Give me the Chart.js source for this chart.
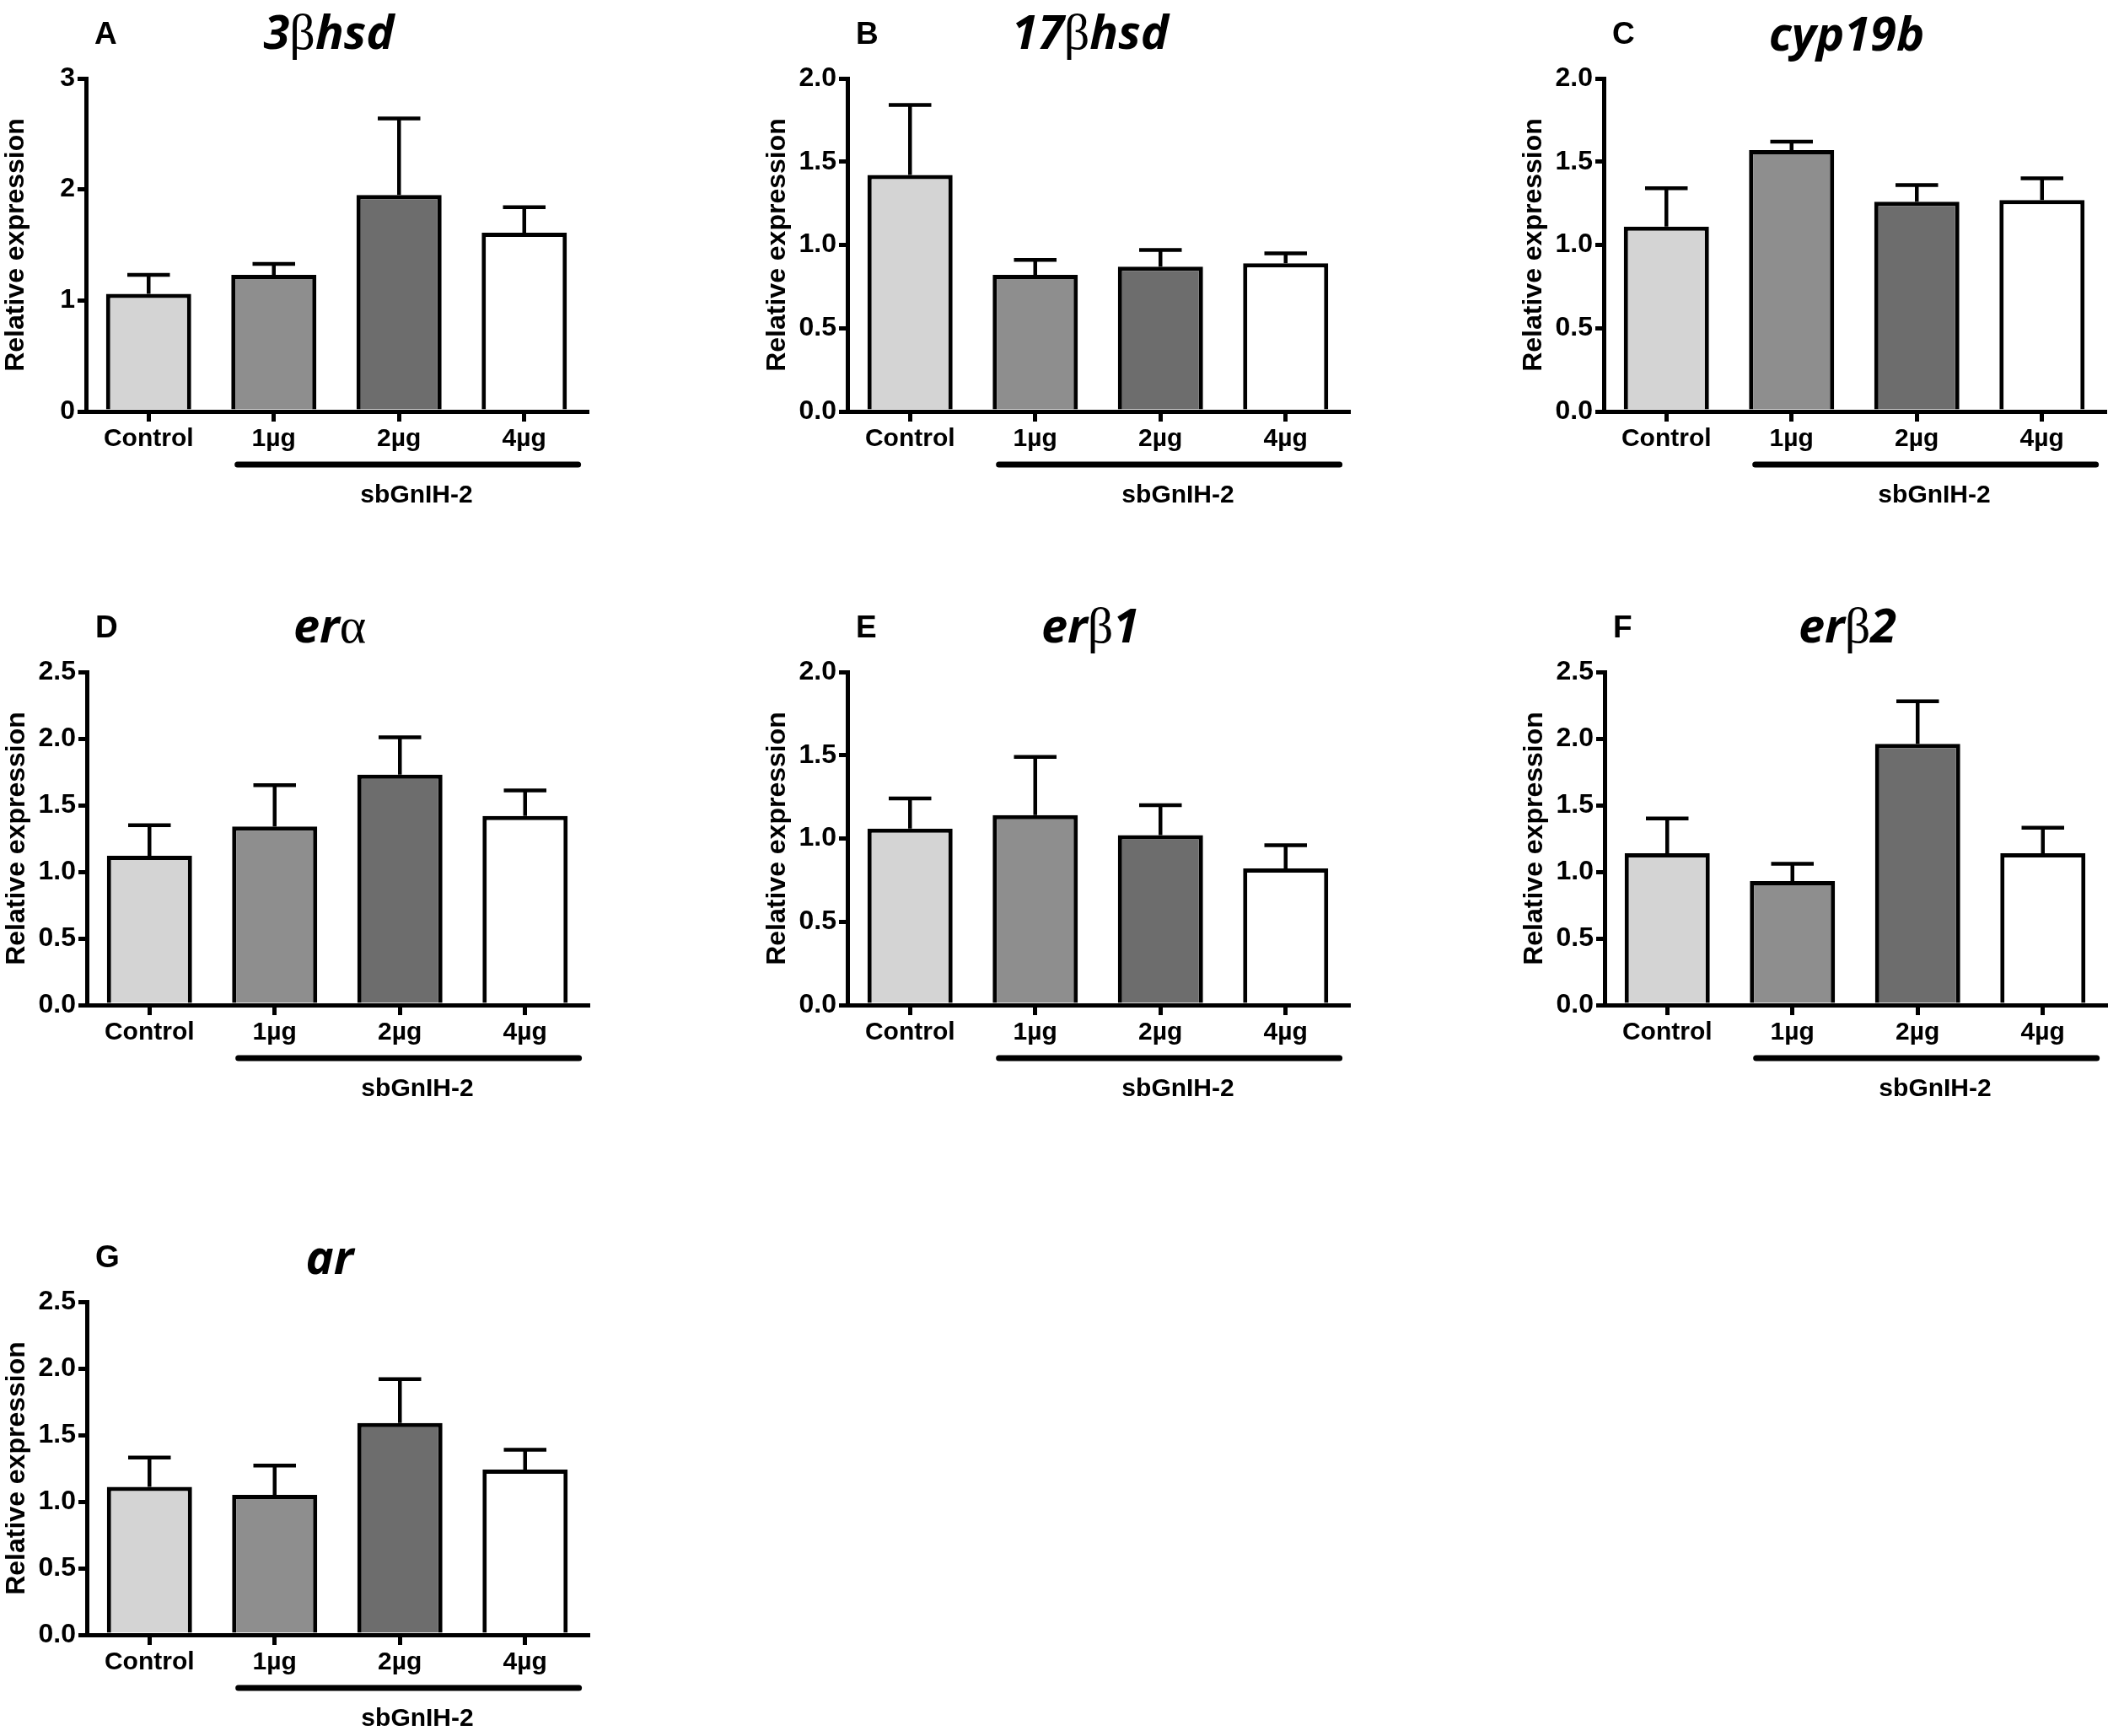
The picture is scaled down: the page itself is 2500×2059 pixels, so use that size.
<!DOCTYPE html>
<html>
<head>
<meta charset="utf-8">
<script src="https://cdn.jsdelivr.net/npm/chart.js@4.4.0/dist/chart.umd.min.js"></script>
<style>
  html, body { margin: 0; padding: 0; background: #fff; overflow: hidden; }
  body { width: 2500px; height: 2059px; position: relative; }
  canvas { position: absolute; }
  .letter { position: absolute; font: bold 37px "Liberation Sans", Arial, sans-serif; line-height: 1; transform: translateY(-50%); }
  .gene { position: absolute; font: italic bold 56px "Open Sans", sans-serif; line-height: 1; transform: translate(-50%, -50%); white-space: nowrap; }
  .gene .greek { font: normal 60px "Liberation Serif", serif; }
</style>
</head>
<body>
<script>
// categories and labels
const groups = ['Control', '1µg', '2µg', '4µg'];
const genes = ['3βhsd', '17βhsd', 'cyp19b', 'erα', 'erβ1', 'erβ2', 'ar'];
const panelLetters = ['A', 'B', 'C', 'D', 'E', 'F', 'G'];
const treatmentLabel = 'sbGnIH-2';
const yTitle = 'Relative expression';

// means and SEM
const mean3bhsd = [1.06, 1.23, 1.95, 1.61];
const sem3bhsd = [0.17, 0.10, 0.69, 0.23];
const mean17bhsd = [1.42, 0.82, 0.87, 0.89];
const sem17bhsd = [0.42, 0.09, 0.10, 0.06];
const meanCyp19b = [1.11, 1.57, 1.26, 1.27];
const semCyp19b = [0.23, 0.05, 0.10, 0.13];
const meanEra = [1.12, 1.34, 1.73, 1.42];
const semEra = [0.23, 0.31, 0.28, 0.19];
const meanErb1 = [1.06, 1.14, 1.02, 0.82];
const semErb1 = [0.18, 0.35, 0.18, 0.14];
const meanErb2 = [1.14, 0.93, 1.96, 1.14];
const semErb2 = [0.26, 0.13, 0.32, 0.19];
const meanAr = [1.11, 1.05, 1.59, 1.24];
const semAr = [0.22, 0.22, 0.33, 0.15];

// y axis ranges
const yMax = [3, 2, 2, 2.5, 2, 2.5, 2.5];
const yStep = [1, 0.5, 0.5, 0.5, 0.5, 0.5, 0.5];

const allMeans = [mean3bhsd, mean17bhsd, meanCyp19b, meanEra, meanErb1, meanErb2, meanAr];
const allSems = [sem3bhsd, sem17bhsd, semCyp19b, semEra, semErb1, semErb2, semAr];

// layout of the panels on the page
const panelLeft = [0, 903, 1800, 1, 903, 1801, 1];
const panelTop = [0, 0, 0, 704, 704, 704, 1451];
const canvasW = 700, canvasH = 620;
const axisW = 102, padTop = 93, xAxisH = 132;

const barColors = ['#d4d4d4', '#8e8e8e', '#6d6d6d', '#ffffff'];
const sans = '"Liberation Sans", Arial, sans-serif';

const errorBars = {
    id: 'errorBars',
    afterDatasetsDraw(chart, args, opts) {
        const ctx = chart.ctx;
        const y = chart.scales.y;
        const ds = chart.data.datasets[0];
        ctx.save();
        ctx.strokeStyle = '#000';
        ctx.lineWidth = 4.5;
        chart.getDatasetMeta(0).data.forEach((bar, i) => {
            const top = y.getPixelForValue(ds.data[i] + opts.sem[i]);
            const half = bar.width * 0.25;
            ctx.beginPath();
            ctx.moveTo(bar.x, bar.y);
            ctx.lineTo(bar.x, top);
            ctx.moveTo(bar.x - half, top);
            ctx.lineTo(bar.x + half, top);
            ctx.stroke();
        });
        ctx.restore();
    }
};

// thick line under the treated groups with its label
const treatmentBar = {
    id: 'treatmentBar',
    afterDraw(chart, args, opts) {
        const ctx = chart.ctx;
        const x = chart.scales.x;
        const step = x.getPixelForValue(1) - x.getPixelForValue(0);
        const bottom = chart.chartArea.bottom;
        ctx.save();
        ctx.strokeStyle = '#000';
        ctx.lineWidth = 7;
        ctx.lineCap = 'round';
        ctx.beginPath();
        ctx.moveTo(x.getPixelForValue(1) - 0.29 * step, bottom + 63);
        ctx.lineTo(x.getPixelForValue(3) + 0.43 * step, bottom + 63);
        ctx.stroke();
        ctx.fillStyle = '#000';
        ctx.font = 'bold 30px ' + sans;
        ctx.textAlign = 'center';
        ctx.textBaseline = 'middle';
        ctx.fillText(opts.label, x.getPixelForValue(2) + 0.14 * step, bottom + 100);
        ctx.restore();
    }
};

genes.forEach((gene, p) => {
    const canvas = document.createElement('canvas');
    canvas.width = canvasW;
    canvas.height = canvasH;
    canvas.style.left = panelLeft[p] + 'px';
    canvas.style.top = panelTop[p] + 'px';
    document.body.appendChild(canvas);

    const letter = document.createElement('div');
    letter.className = 'letter';
    letter.textContent = panelLetters[p];
    letter.style.left = (panelLeft[p] + axisW + 10) + 'px';
    letter.style.top = (panelTop[p] + padTop - 54) + 'px';
    document.body.appendChild(letter);

    const title = document.createElement('div');
    title.className = 'gene';
    title.innerHTML = gene.replace(/([αβ])/g, '<span class="greek">$1</span>');
    title.style.left = (panelLeft[p] + axisW + 288) + 'px';
    title.style.top = (panelTop[p] + padTop - 55) + 'px';
    document.body.appendChild(title);

    const decimals = yStep[p] < 1 ? 1 : 0;

    new Chart(canvas.getContext('2d'), {
        type: 'bar',
        data: {
            labels: groups,
            datasets: [{
                data: allMeans[p],
                backgroundColor: barColors,
                borderColor: '#000',
                borderWidth: 5,
                categoryPercentage: 1,
                barPercentage: 0.68
            }]
        },
        options: {
            responsive: false,
            animation: false,
            devicePixelRatio: 1,
            layout: { padding: { top: padTop, right: 4, left: 0, bottom: 0 } },
            plugins: {
                legend: { display: false },
                tooltip: { enabled: false },
                errorBars: { sem: allSems[p] },
                treatmentBar: { label: treatmentLabel }
            },
            scales: {
                x: {
                    grid: { drawOnChartArea: false, offset: false, tickLength: 12, lineWidth: 5, color: '#000' },
                    border: { display: true, width: 5, color: '#000' },
                    ticks: { color: '#000', font: { family: sans, weight: 'bold', size: 30 }, padding: 3, maxRotation: 0 },
                    afterFit(scale) { scale.height = xAxisH; }
                },
                y: {
                    min: 0,
                    max: yMax[p],
                    ticks: {
                        stepSize: yStep[p],
                        color: '#000',
                        padding: 3,
                        font: { family: sans, weight: 'bold', size: 32 },
                        callback: v => v.toFixed(decimals)
                    },
                    grid: { drawOnChartArea: false, tickLength: 10, lineWidth: 5, color: '#000' },
                    border: { display: true, width: 5, color: '#000' },
                    title: {
                        display: true,
                        text: yTitle,
                        color: '#000',
                        padding: 0,
                        font: { family: sans, weight: 'bold', size: 32 }
                    },
                    afterFit(scale) { scale.width = axisW; }
                }
            }
        },
        plugins: [errorBars, treatmentBar]
    });
});
</script>
</body>
</html>
